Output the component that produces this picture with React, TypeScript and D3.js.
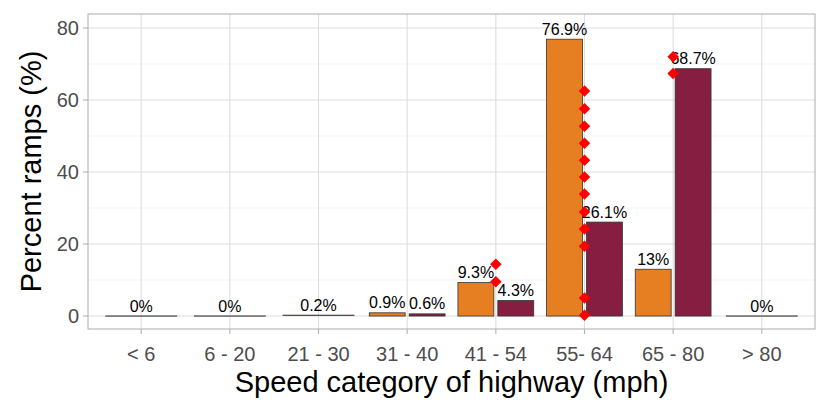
import React from "react";
import * as d3 from "d3";

const categories = ["< 6", "6 - 20", "21 - 30", "31 - 40", "41 - 54", "55- 64", "65 - 80", "> 80"];
// Two series; null means absent in that category
const seriesA = [null, null, null, 0.9, 9.3, 76.9, 13, null];
const seriesB = [null, null, null, 0.6, 4.3, 26.1, 68.7, null];
// Single (undodged) bars
const singleVals = [0, 0, 0.2, null, null, null, null, 0];
const seriesColors = ["#E67E22", "#861E41"];
const yTicks = [0, 20, 40, 60, 80];
const yMinor = [10, 30, 50, 70];
// Red diamond points (category, value)
const pointCats = ["41 - 54", "41 - 54", "55- 64", "55- 64", "55- 64", "55- 64", "55- 64", "55- 64", "55- 64", "55- 64", "55- 64", "55- 64", "55- 64", "55- 64", "65 - 80", "65 - 80"];
const pointVals = [14.4, 9.5, 62.5, 57.6, 52.7, 48.0, 43.3, 38.6, 33.9, 28.9, 24.2, 19.4, 5.0, 0.2, 72.0, 67.4];

const W = 830, H = 415;
const panel = { left: 88, right: 815, top: 14, bottom: 329 };
const FONT = "'Liberation Sans', Arial, Helvetica, sans-serif";

export default function App() {
  const x = d3.scalePoint<string>().domain(categories).range([panel.left, panel.right]).padding(0.6);
  const step = x.step();
  const y = d3.scaleLinear().domain([-3.6, 83.9]).range([panel.bottom, panel.top]);

  type Bar = { cat: string; v: number; x0: number; w: number; fill: string; key: string };
  const bars: Bar[] = [];
  categories.forEach((c, i) => {
    const cx = x(c)!;
    const present: { v: number; fill: string }[] = [];
    if (seriesA[i] != null) present.push({ v: seriesA[i] as number, fill: seriesColors[0] });
    if (seriesB[i] != null) present.push({ v: seriesB[i] as number, fill: seriesColors[1] });
    if (singleVals[i] != null) present.push({ v: singleVals[i] as number, fill: "#555555" });
    const inner = d3.scaleBand<number>().domain(present.map((_, k) => k)).range([cx - 0.45 * step, cx + 0.45 * step]);
    present.forEach((p, k) => {
      const bw = inner.bandwidth();
      const x0 = inner(k)! + bw * 0.05;
      bars.push({ cat: c, v: p.v, x0, w: bw * 0.9, fill: p.fill, key: c + k });
    });
  });

  const fmt = (v: number) => `${v}%`;
  const diamond = d3.symbol().type(d3.symbolDiamond2).size(85)();

  return (
    <svg width={W} height={H} style={{ position: "absolute", left: 0, top: 0 }} fontFamily={FONT}>
      <rect x={0} y={0} width={W} height={H} fill="white" />
      {/* grid */}
      {yMinor.map((t) => (
        <line key={"mi" + t} x1={panel.left} x2={panel.right} y1={y(t)} y2={y(t)} stroke="#F0F0F0" strokeWidth={0.8} />
      ))}
      {yTicks.map((t) => (
        <line key={"ma" + t} x1={panel.left} x2={panel.right} y1={y(t)} y2={y(t)} stroke="#DEDEDE" strokeWidth={1.1} />
      ))}
      {categories.map((c) => (
        <line key={"vx" + c} x1={x(c)} x2={x(c)} y1={panel.top} y2={panel.bottom} stroke="#DEDEDE" strokeWidth={1.1} />
      ))}
      {/* bars */}
      {bars.map((b) => {
        const h = y(0) - y(b.v);
        return h < 1.2 ? (
          <rect key={b.key} x={b.x0} width={b.w} y={y(b.v) - 0.6} height={1.2} fill="#444444" />
        ) : (
          <rect key={b.key} x={b.x0} width={b.w} y={y(b.v)} height={h}
            fill={b.fill} stroke="#333333" strokeWidth={0.8} />
        );
      })}
      {/* labels */}
      {bars.map((b) => (
        <text key={"l" + b.key} x={b.x0 + b.w / 2} y={y(b.v) - 4.5} textAnchor="middle" fontSize={16} fill="#000">
          {fmt(b.v)}
        </text>
      ))}
      {/* diamonds */}
      {pointVals.map((v, i) => (
        <path key={"p" + i} d={diamond!} transform={`translate(${x(pointCats[i])},${y(v)})`} fill="#FF0000" />
      ))}
      {/* panel border */}
      <rect x={panel.left} y={panel.top} width={panel.right - panel.left} height={panel.bottom - panel.top}
        fill="none" stroke="#B3B3B3" strokeWidth={1.1} />
      {/* y axis ticks */}
      {yTicks.map((t) => (
        <g key={"yt" + t}>
          <line x1={panel.left - 5} x2={panel.left} y1={y(t)} y2={y(t)} stroke="#B3B3B3" strokeWidth={1.1} />
          <text x={panel.left - 9} y={y(t)} dy="0.36em" textAnchor="end" fontSize={20} fill="#4D4D4D">{t}</text>
        </g>
      ))}
      {/* x axis ticks */}
      {categories.map((c) => (
        <g key={"xt" + c}>
          <line x1={x(c)} x2={x(c)} y1={panel.bottom} y2={panel.bottom + 5} stroke="#B3B3B3" strokeWidth={1.1} />
          <text x={x(c)} y={panel.bottom + 32} textAnchor="middle" fontSize={20} fill="#4D4D4D">{c}</text>
        </g>
      ))}
      {/* titles */}
      <text x={(panel.left + panel.right) / 2} y={392} textAnchor="middle" fontSize={29} fill="#000">
        Speed category of highway (mph)
      </text>
      <text transform={`translate(41,${(panel.top + panel.bottom) / 2}) rotate(-90)`} textAnchor="middle" fontSize={29} fill="#000">
        Percent ramps (%)
      </text>
    </svg>
  );
}
